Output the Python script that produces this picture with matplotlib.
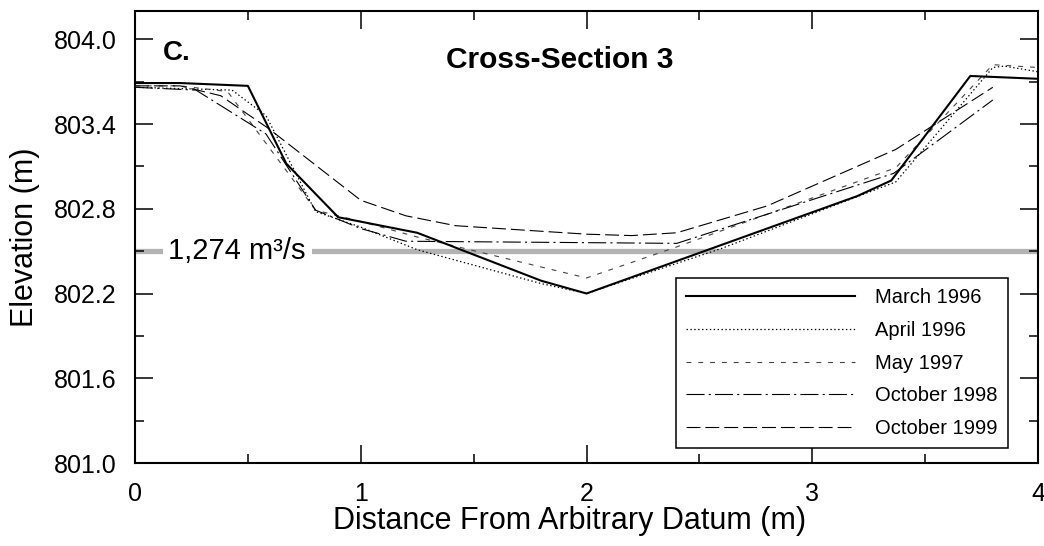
import matplotlib
matplotlib.use("Agg")
import matplotlib.pyplot as plt
from matplotlib.ticker import MultipleLocator, FixedLocator, FormatStrFormatter

plt.rcParams['font.family'] = ['Liberation Sans', 'DejaVu Sans']
plt.rcParams['lines.scale_dashes'] = False

# Surveyed channel profiles (distance in m, elevation in m)
mar96_x = [0, 0.2, 0.5, 0.67, 0.9, 1.25, 1.8, 2.0, 3.2, 3.35, 3.7, 4.0]
mar96_y = [803.69, 803.69, 803.67, 803.12, 802.74, 802.63, 802.29, 802.20, 802.89, 803.00, 803.74, 803.72]

apr96_x = [0, 0.43, 0.58, 0.8, 1.0, 1.25, 1.8, 2.0, 2.6, 3.37, 3.8, 3.85, 4.0]
apr96_y = [803.66, 803.64, 803.46, 802.78, 802.67, 802.51, 802.27, 802.20, 802.52, 802.99, 803.80, 803.81, 803.77]

may97_x = [0, 0.2, 0.41, 0.8, 1.0, 1.25, 2.0, 2.4, 3.37, 3.8, 4.0]
may97_y = [803.67, 803.67, 803.63, 802.79, 802.71, 802.60, 802.31, 802.53, 803.09, 803.82, 803.80]

oct98_x = [0, 0.27, 0.58, 0.8, 1.0, 1.2, 2.4, 3.36, 3.8]
oct98_y = [803.66, 803.64, 803.33, 802.79, 802.66, 802.57, 802.555, 803.05, 803.57]

oct99_x = [0, 0.2, 0.38, 0.59, 1.0, 1.2, 1.42, 2.0, 2.2, 2.4, 2.8, 3.37, 3.8]
oct99_y = [803.67, 803.67, 803.60, 803.37, 802.86, 802.75, 802.68, 802.62, 802.61, 802.63, 802.82, 803.22, 803.66]

series_labels = ['March 1996', 'April 1996', 'May 1997', 'October 1998', 'October 1999']

flow_stage = 802.5
flow_label = '1,274 m\u00b3/s'

x_major = [0, 1, 2, 3, 4]
y_major = [801.0, 801.6, 802.2, 802.8, 803.4, 804.0]

fig = plt.figure(figsize=(10.44, 5.46), dpi=100)
ax = fig.add_axes([135 / 1044, 1 - 463 / 546, 903 / 1044, 452 / 546])

# water-surface stage for the reference discharge
ax.axhline(flow_stage, color='#b3b3b3', lw=3.8, zorder=1)
ax.text(0.148, flow_stage, flow_label, fontsize=21, ha='left', va='center',
        bbox=dict(facecolor='white', edgecolor='none', boxstyle='square,pad=0.2'),
        zorder=2)

ax.plot(mar96_x, mar96_y, color='black', lw=1.5, label=series_labels[0], zorder=5)
ax.plot(apr96_x, apr96_y, color='black', lw=0.9, dashes=(1.0, 1.8), label=series_labels[1], zorder=4)
ax.plot(may97_x, may97_y, color='#444444', lw=0.8, dashes=(3.5, 5.0), label=series_labels[2], zorder=4)
ax.plot(oct98_x, oct98_y, color='black', lw=0.8, dashes=(13, 3, 1.5, 3), label=series_labels[3], zorder=4)
ax.plot(oct99_x, oct99_y, color='black', lw=0.8, dashes=(10, 3.6), label=series_labels[4], zorder=4)

ax.set_xlim(0, 4)
ax.set_ylim(801.0, 804.2)

ax.xaxis.set_major_locator(FixedLocator(x_major))
ax.xaxis.set_minor_locator(MultipleLocator(0.5))
ax.yaxis.set_major_locator(FixedLocator(y_major))
ax.yaxis.set_minor_locator(MultipleLocator(0.3))
ax.yaxis.set_major_formatter(FormatStrFormatter('%.1f'))
ax.xaxis.set_major_formatter(FormatStrFormatter('%d'))

ax.tick_params(which='both', direction='in', top=True, right=True, width=1.1, labelsize=18)
ax.tick_params(which='major', length=13)
ax.tick_params(which='minor', length=6.5)
ax.tick_params(axis='y', pad=13)
ax.tick_params(axis='x', pad=14)
for sp in ax.spines.values():
    sp.set_linewidth(1.5)

ax.set_xlabel('Distance From Arbitrary Datum (m)', fontsize=22, labelpad=0)
ax.xaxis.label.set_x(0.4817)
ax.set_ylabel('Elevation (m)', fontsize=22, labelpad=10)

ax.text(0.124, 803.90, 'C.', fontsize=20, fontweight='bold', ha='left', va='center')
ax.text(1.88, 803.855, 'Cross-Section 3', fontsize=21.5, fontweight='bold', ha='center', va='center')

leg = ax.legend(loc='upper left', bbox_to_anchor=(0.599, 0.409), fontsize=14.5,
                frameon=True, fancybox=False, framealpha=1, edgecolor='black',
                handlelength=8.4, handletextpad=1.0, labelspacing=0.68,
                borderpad=0.5, borderaxespad=0)
leg.get_frame().set_linewidth(1.1)
leg.set_zorder(6)

fig.savefig('out.png', dpi=100)
